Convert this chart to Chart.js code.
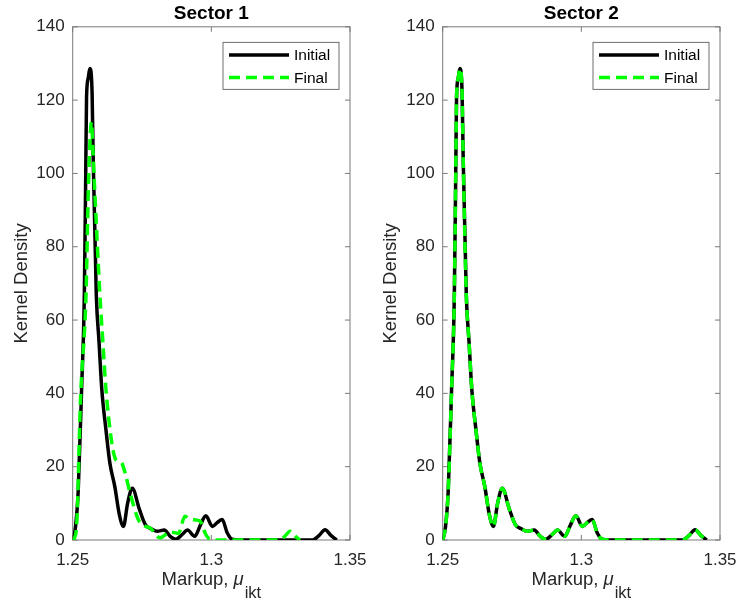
<!DOCTYPE html>
<html>
<head>
<meta charset="utf-8">
<script src="https://cdn.jsdelivr.net/npm/chart.js@4.4.1/dist/chart.umd.min.js"></script>
<style>
    body { margin: 0; background: #fff; }
    .panel { position: absolute; top: 0; width: 369px; height: 603px; }
</style>
</head>
<body>
<div class="panel" style="left:0"><canvas id="sector1"></canvas></div>
<div class="panel" style="left:369px"><canvas id="sector2"></canvas></div>
<script>
var xTicks = [1.25, 1.3, 1.35];
var yTicks = [0, 20, 40, 60, 80, 100, 120, 140];

// Sector 1
var s1InitialX = [1.2500, 1.2510, 1.2520, 1.2532, 1.2542, 1.2547, 1.2550, 1.2556, 1.2562, 1.2570, 1.2574, 1.2585, 1.2595, 1.2605, 1.2620, 1.2634, 1.2652, 1.2668, 1.2683, 1.2698, 1.2715, 1.2740, 1.2762, 1.2785, 1.2805, 1.2830, 1.2852, 1.2872, 1.2895, 1.2914, 1.2940, 1.2960, 1.2980, 1.3004, 1.3022, 1.3039, 1.3057, 1.3075, 1.3100, 1.3365, 1.3388, 1.3410, 1.3432, 1.3452];
var s1InitialY = [0, 3.5, 13.6, 41, 67, 100, 121, 126, 128.6, 121.8, 103.6, 67, 54, 41, 30, 21, 14.5, 7, 3.7, 10, 14.1, 8.5, 4.2, 3.0, 2.4, 2.7, 1.0, 0.2, 1.5, 2.7, 1.0, 4, 6.6, 3.7, 4.8, 5.6, 2, 0.2, 0, 0, 1.2, 2.8, 1.2, 0];
var s1FinalX = [1.2500, 1.2506, 1.2515, 1.2528, 1.2548, 1.2556, 1.2563, 1.2568, 1.2572, 1.2580, 1.2598, 1.2608, 1.2620, 1.2640, 1.2653, 1.2665, 1.2677, 1.2690, 1.2707, 1.2737, 1.2760, 1.2779, 1.2815, 1.2851, 1.2881, 1.2905, 1.2920, 1.2940, 1.2959, 1.2980, 1.2995, 1.3030, 1.3245, 1.3265, 1.3284, 1.3303, 1.3320];
var s1FinalY = [0, 0.5, 5, 38, 67, 94.5, 110, 114, 108, 94.5, 67, 55, 41, 27, 22.3, 21.5, 21, 18, 12.8, 5.5, 3.8, 3.3, 0.6, 2.2, 1.8, 6.5, 5.8, 5.5, 5.2, 1.5, 0.2, 0, 0, 1, 2.4, 1, 0];

// Sector 2 (initial and final lie on top of each other)
var s2InitialX = [1.2500, 1.2510, 1.2520, 1.2532, 1.2542, 1.2547, 1.2550, 1.2556, 1.2562, 1.2570, 1.2574, 1.2585, 1.2595, 1.2605, 1.2620, 1.2634, 1.2652, 1.2668, 1.2683, 1.2698, 1.2715, 1.2740, 1.2762, 1.2785, 1.2805, 1.2830, 1.2852, 1.2872, 1.2895, 1.2914, 1.2940, 1.2960, 1.2980, 1.3004, 1.3022, 1.3039, 1.3057, 1.3075, 1.3100, 1.3365, 1.3388, 1.3410, 1.3432, 1.3452];
var s2InitialY = [0, 3.5, 13.6, 41, 67, 100, 121, 126, 128.6, 121.8, 103.6, 67, 54, 41, 30, 21, 14.5, 7, 3.7, 10, 14.1, 8.5, 4.2, 3.0, 2.4, 2.7, 1.0, 0.2, 1.5, 2.7, 1.0, 4, 6.6, 3.7, 4.8, 5.6, 2, 0.2, 0, 0, 1.2, 2.8, 1.2, 0];
var s2FinalX = s2InitialX;
var s2FinalY = [0, 3.5, 13.6, 41, 67, 100, 121, 126, 128.6, 121.8, 103.6, 67, 54, 41, 30, 21, 14.5, 7, 3.7, 10, 14.1, 8.5, 4.2, 3.0, 2.4, 2.7, 1.0, 0.2, 1.5, 2.7, 1.0, 4, 6.6, 3.7, 4.8, 5.6, 2, 0.2, 0, 0, 1.2, 2.8, 1.2, 0];

var FONT = '"Liberation Sans", Arial, Helvetica, sans-serif';
Chart.defaults.font.family = FONT;

function pts(xs, ys) {
    return xs.map(function (x, i) { return { x: x, y: ys[i] }; });
}

// box, inward ticks, legend and the x label with its subscript
var matlabAxes = {
    id: 'matlabAxes',
    beforeDatasetsDraw: function (chart) {
        var a = chart.chartArea, ctx = chart.ctx;
        var xs = chart.scales.x, ys = chart.scales.y;
        ctx.save();
        ctx.strokeStyle = '#7a7a7a';
        ctx.lineWidth = 1;
        ctx.strokeRect(a.left, a.top, a.right - a.left, a.bottom - a.top);
        ctx.beginPath();
        xTicks.forEach(function (v) {
            var px = xs.getPixelForValue(v);
            ctx.moveTo(px, a.bottom); ctx.lineTo(px, a.bottom - 5);
            ctx.moveTo(px, a.top); ctx.lineTo(px, a.top + 5);
        });
        yTicks.forEach(function (v) {
            var py = ys.getPixelForValue(v);
            ctx.moveTo(a.left, py); ctx.lineTo(a.left + 5, py);
            ctx.moveTo(a.right, py); ctx.lineTo(a.right - 5, py);
        });
        ctx.stroke();
        ctx.restore();
    },
    afterDraw: function (chart) {
        var a = chart.chartArea, ctx = chart.ctx;
        ctx.save();
        // legend
        var w = 116, h = 47, bx = a.right - 11 - w, by = a.top + 15.6;
        ctx.fillStyle = '#fff';
        ctx.fillRect(bx, by, w, h);
        ctx.strokeStyle = '#6e6e6e';
        ctx.lineWidth = 1;
        ctx.strokeRect(bx, by, w, h);
        chart.data.datasets.forEach(function (ds, i) {
            var ly = by + 12.7 + i * 22.3;
            ctx.beginPath();
            ctx.setLineDash(ds.borderDash || []);
            ctx.strokeStyle = ds.borderColor;
            ctx.lineWidth = ds.borderWidth;
            ctx.moveTo(bx + 6, ly);
            ctx.lineTo(bx + 66, ly);
            ctx.stroke();
            ctx.setLineDash([]);
            ctx.fillStyle = '#000';
            ctx.font = '15.5px ' + FONT;
            ctx.textBaseline = 'middle';
            ctx.textAlign = 'left';
            ctx.fillText(ds.label, bx + 71, ly + 1);
        });
        // x label: Markup, mu_ikt
        var parts = [
            { t: 'Markup, ', f: '18.5px ' + FONT, dy: 0 },
            { t: '\u03bc', f: 'italic 18.5px ' + FONT, dy: 0 },
            { t: 'ikt', f: '16.5px ' + FONT, dy: 13 }
        ];
        var total = 0;
        parts.forEach(function (p) { ctx.font = p.f; p.w = ctx.measureText(p.t).width; total += p.w; });
        total += 1;
        var cx = (a.left + a.right) / 2 - total / 2, base = 585;
        ctx.fillStyle = '#262626';
        ctx.textBaseline = 'alphabetic';
        parts.forEach(function (p, i) {
            ctx.font = p.f;
            ctx.fillText(p.t, cx, base + p.dy);
            cx += p.w + (i === 1 ? 1 : 0);
        });
        ctx.restore();
    }
};

function makeChart(id, title, initialX, initialY, finalX, finalY, yWidth, padRight) {
    var ctx = document.getElementById(id);
    return new Chart(ctx, {
        type: 'line',
        data: {
            datasets: [
                {
                    label: 'Initial',
                    data: pts(initialX, initialY),
                    borderColor: '#000000',
                    borderWidth: 3.5,
                    cubicInterpolationMode: 'monotone',
                    order: 1
                },
                {
                    label: 'Final',
                    data: pts(finalX, finalY),
                    borderColor: '#00ff00',
                    borderWidth: 3.5,
                    borderDash: [11, 6],
                    cubicInterpolationMode: 'monotone',
                    order: 0
                }
            ]
        },
        options: {
            responsive: true,
            maintainAspectRatio: false,
            animation: false,
            layout: { padding: { left: 0, right: padRight, top: 0, bottom: 0 } },
            elements: {
                point: { radius: 0 }
            },
            plugins: {
                legend: { display: false },
                tooltip: { enabled: false },
                title: {
                    display: true,
                    text: title,
                    fullSize: false,
                    color: '#000',
                    font: { size: 19, weight: 'bold' },
                    padding: { top: 2, bottom: 2 }
                }
            },
            scales: {
                x: {
                    type: 'linear',
                    min: 1.25,
                    max: 1.35,
                    grid: { display: false, drawTicks: false },
                    border: { display: false },
                    afterBuildTicks: function (scale) {
                        scale.ticks = xTicks.map(function (v) { return { value: v }; });
                    },
                    afterFit: function (scale) {
                        scale.height = 63;
                        scale.paddingLeft = 0;
                        scale.paddingRight = 0;
                    },
                    ticks: {
                        padding: 10,
                        color: '#262626',
                        font: { size: 17 },
                        maxRotation: 0,
                        callback: function (v) { return String(v); }
                    }
                },
                y: {
                    min: 0,
                    max: 140,
                    grid: { display: false, drawTicks: false },
                    border: { display: false },
                    afterBuildTicks: function (scale) {
                        scale.ticks = yTicks.map(function (v) { return { value: v }; });
                    },
                    afterFit: function (scale) {
                        scale.width = yWidth;
                        scale.paddingTop = 0;
                        scale.paddingBottom = 0;
                    },
                    ticks: {
                        padding: 8,
                        color: '#262626',
                        font: { size: 17 }
                    },
                    title: {
                        display: true,
                        text: 'Kernel Density',
                        color: '#262626',
                        font: { size: 18.5 },
                        padding: { top: 11, bottom: 0 }
                    }
                }
            }
        },
        plugins: [matlabAxes]
    });
}

makeChart('sector1', 'Sector 1', s1InitialX, s1InitialY, s1FinalX, s1FinalY, 72.7, 19);
makeChart('sector2', 'Sector 2', s2InitialX, s2InitialY, s2FinalX, s2FinalY, 73.7, 18);
</script>
</body>
</html>
